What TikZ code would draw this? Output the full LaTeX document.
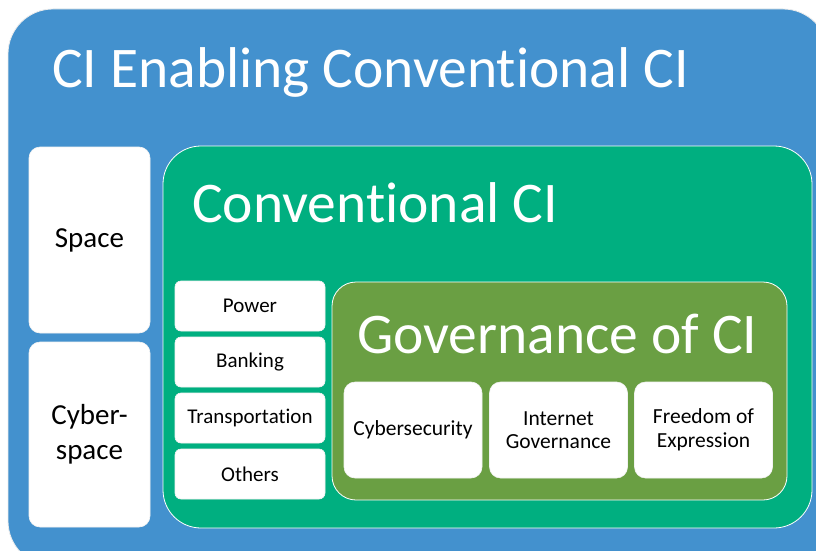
\documentclass[tikz,border=0pt]{standalone}
\usepackage{fontspec}
\setmainfont{Carlito}[RawFeature={-liga,-clig,-dlig}]
\usepackage{xcolor}
\definecolor{ciblue}{RGB}{67,145,206}
\definecolor{cigreen}{RGB}{0,175,128}
\definecolor{ciolive}{RGB}{106,159,67}

\begin{document}
\begin{tikzpicture}[x=1pt,y=-1pt,
    panel/.style={draw=white!85!gray, line width=0.8pt, inner sep=0pt},
    card/.style={draw=white!90!gray, line width=0.6pt, fill=white, rounded corners=11pt,
        align=center, inner sep=0pt, text=black},
    bigcard/.style={card, minimum width=121, font=\fontsize{29}{35}\selectfont},
    sector/.style={card, minimum width=150, minimum height=50, rounded corners=6pt,
        font=\fontsize{21}{23}\selectfont},
    topic/.style={card, minimum width=138, minimum height=96, font=\fontsize{21.5}{23.5}\selectfont},
    heading/.style={anchor=base west, text=white, inner sep=0pt, font=\fontsize{57.5}{68}\selectfont}]
        \useasboundingbox (0,0) rectangle (816,551);
        \fill[white] (0,0) rectangle (816,551);
        \clip (0,0) rectangle (816,551);
        % panels
        \node[panel, fill=ciblue, rounded corners=45pt, minimum width=820, minimum height=557] (enabling) at (418,287.5) {};
        \node[panel, draw=white, fill=cigreen, rounded corners=38pt, minimum width=649, minimum height=382] (conventional) at (487.5,337) {};
        \node[panel, draw=white, fill=ciolive, rounded corners=24pt, minimum width=455, minimum height=218] (governance) at (559.5,391) {};
        % headings
        \node[heading] (t1) at (52,88) {CI Enabling Conventional CI};
        \node[heading] (t2) at (192,222) {Conventional CI};
        \node[heading] (t3) at (357,353) {Governance of CI};
        % space and cyberspace
        \node[bigcard, minimum height=186] (space) at (89.5,240) {Space};
        \node[bigcard, minimum height=185] (cyber) at (89.5,434.5) {Cyber-\\space};
        % sectors
        \node[sector] (power) at (250,306) {Power};
        \node[sector] (banking) at (250,362) {Banking};
        \node[sector] (transport) at (250,418) {Transportation};
        \node[sector] (others) at (250,474) {Others};
        % topics
        \node[topic] (cybersec) at (413,430) {Cybersecurity};
        \node[topic] (internet) at (558.5,430) {Internet\\Governance};
        \node[topic] (freedom) at (703.5,430) {Freedom of\\Expression};
\end{tikzpicture}
\end{document}
